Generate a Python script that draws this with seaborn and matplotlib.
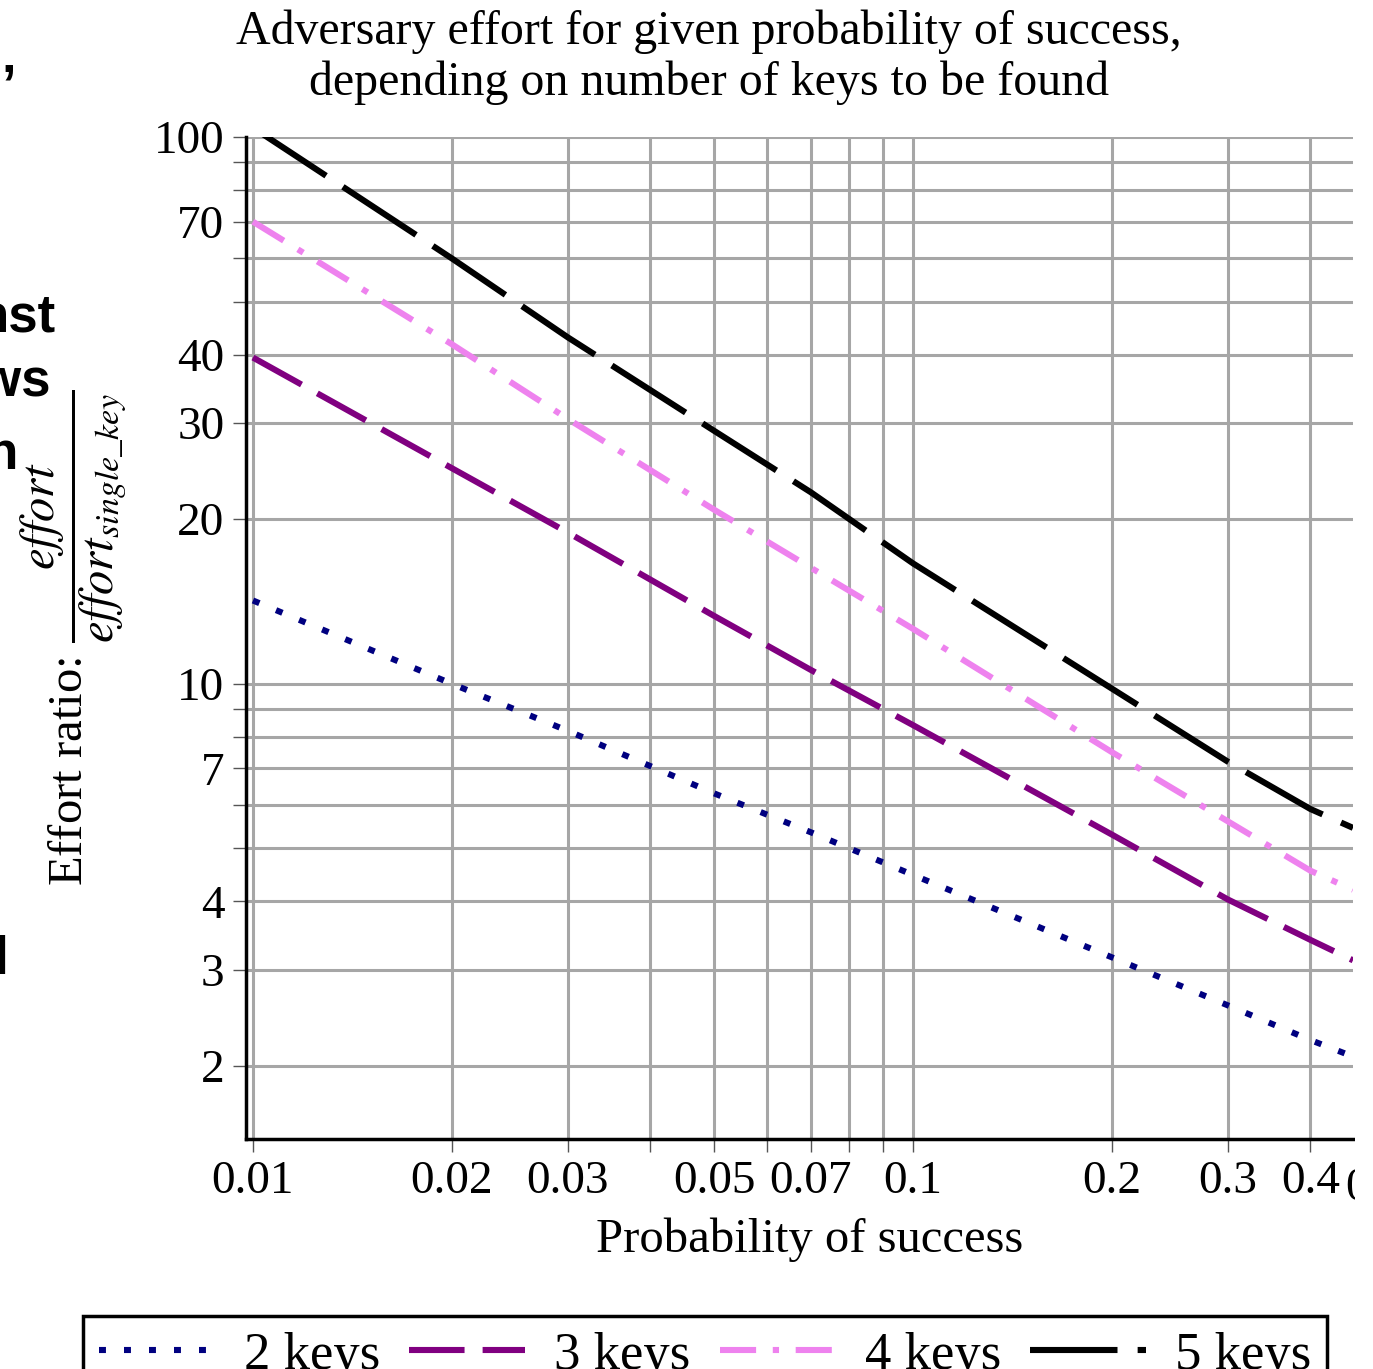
import pandas as pd
import matplotlib
matplotlib.use('Agg')
import matplotlib.pyplot as plt
import seaborn as sns
from matplotlib.patches import Rectangle
from matplotlib.transforms import blended_transform_factory

# values (log-log)
prob = [0.01, 0.02, 0.03, 0.05, 0.07, 0.1, 0.2, 0.3, 0.4, 0.464]
keys2 = [14.2, 10.0, 8.2, 6.3, 5.35, 4.47, 3.16, 2.58, 2.23, 2.08]
keys3 = [39.5, 24.8, 18.9, 13.3, 10.6, 8.4, 5.3, 4.03, 3.4, 3.12]
keys4 = [70.0, 41.8, 30.5, 20.8, 16.3, 12.6, 7.5, 5.6, 4.55, 4.2]
keys5 = [104.0, 60.0, 43.0, 29.0, 22.4, 16.6, 9.8, 7.2, 5.9, 5.45]
series = ['2 keys', '3 keys', '4 keys', '5 keys']

xtick_vals = [0.01, 0.02, 0.03, 0.04, 0.05, 0.06, 0.07, 0.08, 0.09, 0.1, 0.2, 0.3, 0.4]
xtick_labels = ['0.01', '0.02', '0.03', '', '0.05', '', '0.07', '', '', '0.1', '0.2', '0.3', '0.4']
ytick_vals = [2, 3, 4, 5, 6, 7, 8, 9, 10, 20, 30, 40, 50, 60, 70, 80, 90, 100]
ytick_labels = ['2', '3', '4', '', '', '7', '', '', '10', '20', '30', '40', '', '', '70', '', '', '100']

df = pd.DataFrame({
    'prob': prob * 4,
    'ratio': keys2 + keys3 + keys4 + keys5,
    'series': [s for s in series for _ in prob],
})

colors = {'2 keys': '#000080', '3 keys': '#800080', '4 keys': '#ee82ee', '5 keys': '#000000'}
dashes = {'2 keys': (5, 13), '3 keys': (40, 13), '4 keys': (26, 12, 4.5, 12), '5 keys': (63, 14.5)}

sns.set_theme(style='white')
plt.rcParams['font.family'] = ['Liberation Serif', 'DejaVu Serif']
plt.rcParams['mathtext.fontset'] = 'stix'
plt.rcParams['lines.scale_dashes'] = False
plt.rcParams['text.color'] = 'black'
plt.rcParams['axes.labelcolor'] = 'black'
plt.rcParams['xtick.color'] = 'black'
plt.rcParams['ytick.color'] = 'black'

fig = plt.figure(figsize=(13.73, 13.69), dpi=100)
ax = fig.add_axes([246/1373, 1-1139/1369, 1107/1373, 1002/1369])

sns.lineplot(data=df, x='prob', y='ratio', hue='series', style='series',
             palette=colors, dashes=dashes, linewidth=4.4, ax=ax, legend=False)

ax.set_xscale('log')
ax.set_yscale('log')
ax.set_xlim(0.00976, 0.464)
ax.set_ylim(1.47, 100)
ax.set_xticks(xtick_vals)
ax.set_xticklabels(xtick_labels)
ax.set_yticks(ytick_vals)
ax.set_yticklabels(ytick_labels)
ax.minorticks_off()
ax.grid(True, color='#a6a6a6', linewidth=2.2)
ax.set_axisbelow(True)

for side in ['top', 'right']:
    ax.spines[side].set_visible(False)
for side in ['left', 'bottom']:
    ax.spines[side].set_color('black')
    ax.spines[side].set_linewidth(2.5)

ax.tick_params(axis='both', which='major', direction='out', length=9.5, width=1,
               color='#555555', labelcolor='black', labelsize=34, pad=6, left=True, bottom=True)

ax.set_xlabel('Probability of success', fontsize=35)
ax.xaxis.set_label_coords(0.509, -0.078)
ax.set_ylabel(r'Effort ratio: $\dfrac{effort}{effort_{single\_key}}$', fontsize=35)
ax.yaxis.set_label_coords(-0.106, 0.5)

fig.text(709/1373, 1-10/1369,
         'Adversary effort for given probability of success,\ndepending on number of keys to be found',
         ha='center', va='top', fontsize=34.5, linespacing=1.16)

# cut-off tick label past the right edge
trans = blended_transform_factory(ax.transData, ax.transAxes)
ax.text(0.5, -0.028, '0.5', transform=trans, ha='center', va='top', fontsize=34, clip_on=False)
fig.add_artist(Rectangle((1355/1373, 0), 1, 1, transform=fig.transFigure,
                         facecolor='white', edgecolor='none', zorder=10))

# fragments of neighbouring text on the left edge
for txt, xr, yc in [('nst', 56, 318), ('ows', 51, 382), ('on', 18, 455), ('al', 9, 960), ('\u2019', 16, 88)]:
    fig.text(xr/1373, 1-yc/1369, txt, ha='right', va='center', fontsize=38,
             family='Liberation Sans', fontweight='bold')

handles = ax.get_lines()[:4]
leg = fig.legend(handles, series, loc='upper center', bbox_to_anchor=(705/1373, 1-1316/1369),
                 ncol=4, fontsize=38, frameon=True, fancybox=False, framealpha=1,
                 handlelength=2.2, handletextpad=0.55, columnspacing=0.55,
                 borderaxespad=0, borderpad=0.3)
leg.get_frame().set_edgecolor('black')
leg.get_frame().set_linewidth(2.5)

fig.savefig('out.png', dpi=100)
